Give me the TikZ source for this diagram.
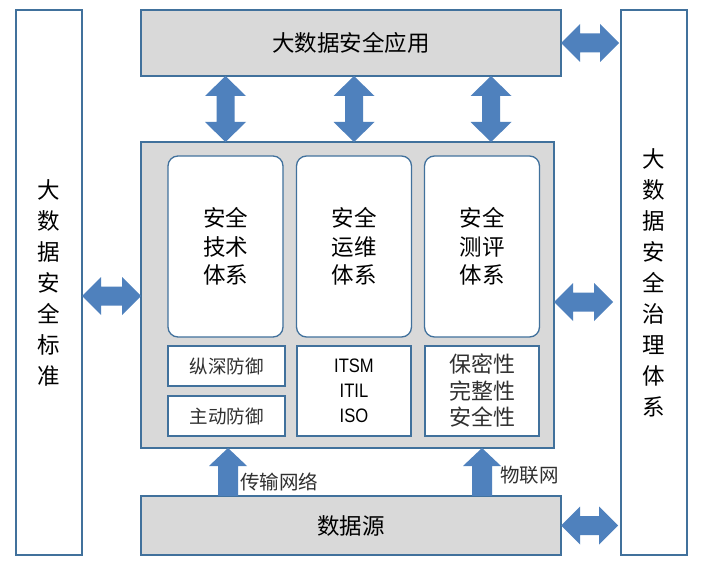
\documentclass[tikz,border=0pt]{standalone}
\usepackage{fontspec}
\usepackage{graphicx}
\setmainfont{Liberation Sans}
\newfontfamily\cjk{Noto Sans CJK SC}
\usetikzlibrary{calc}
\definecolor{bordc}{HTML}{41719C}
\definecolor{arrc}{HTML}{4F81BD}
\definecolor{boxg}{HTML}{D9D9D9}
\definecolor{txtg}{HTML}{303030}
% vertical double block arrow: #1 top tip, #2 bottom tip
\newcommand\myvdarrow[2]{%
 \fill[arrc] let \p1=#1, \p2=#2 in
 (\x1,\y1) -- (\x1+20.5pt,\y1-20pt) -- (\x1+9pt,\y1-20pt) -- (\x1+9pt,\y2+20pt)
 -- (\x1+20.5pt,\y2+20pt) -- (\x1,\y2) -- (\x1-20.5pt,\y2+20pt) -- (\x1-9pt,\y2+20pt)
 -- (\x1-9pt,\y1-20pt) -- (\x1-20.5pt,\y1-20pt) -- cycle;}
% horizontal double block arrow: #1 left tip, #2 right tip
\newcommand\myhdarrow[2]{%
 \fill[arrc] let \p1=#1, \p2=#2 in
 (\x1,\y1) -- (\x1+19pt,\y1+19pt) -- (\x1+19pt,\y1+9.5pt) -- (\x2-19pt,\y1+9.5pt)
 -- (\x2-19pt,\y1+19pt) -- (\x2,\y1) -- (\x2-19pt,\y1-19pt) -- (\x2-19pt,\y1-9.5pt)
 -- (\x1+19pt,\y1-9.5pt) -- (\x1+19pt,\y1-19pt) -- cycle;}
% up block arrow: #1 tip, #2 base
\newcommand\myuparrow[2]{%
 \fill[arrc] let \p1=#1, \p2=#2 in
 (\x1,\y1) -- (\x1+19pt,\y1-18pt) -- (\x1+10pt,\y1-18pt) -- (\x1+10pt,\y2)
 -- (\x1-10pt,\y2) -- (\x1-10pt,\y1-18pt) -- (\x1-19pt,\y1-18pt) -- cycle;}
\begin{document}
\begin{tikzpicture}[x=1pt,y=-1pt,
  basebox/.style={draw=bordc, line width=1.3pt, inner sep=0pt, outer sep=0pt, align=center},
  gbox/.style={basebox, fill=boxg},
  wbox/.style={basebox, fill=white},
  rbox/.style={basebox, fill=white, rounded corners=10pt, minimum width=115pt, minimum height=181pt,
     font=\cjk\fontsize{22.5}{28.5}\selectfont},
  subbox/.style={basebox, fill=white, text=txtg},
  bigtxt/.style={font=\cjk\fontsize{22.5}{27}\selectfont},
  vtxt/.style={font=\cjk\fontsize{22.5}{31}\selectfont},
  lbl/.style={inner sep=0pt, anchor=west, text=txtg, font=\cjk\fontsize{19.5}{24}\selectfont}
]
\useasboundingbox (0,0) rectangle (704,572);
\fill[white] (0,0) rectangle (704,572);

% side boxes
\node[wbox, vtxt, minimum width=66pt, minimum height=545pt] (lstd) at (49,282.5)
  {大\\数\\据\\安\\全\\标\\准};
\node[wbox, vtxt, minimum width=66pt, minimum height=545pt] (rgov) at (654,282.5)
  {大\\数\\据\\安\\全\\治\\理\\体\\系};

% top / bottom
\node[gbox, bigtxt, minimum width=420pt, minimum height=66pt] (top) at (351,43) {大数据安全应用};
\node[gbox, bigtxt, minimum width=420pt, minimum height=59pt] (src) at (351,525.5) {数据源};

% main box
\node[gbox, minimum width=413pt, minimum height=306pt] (main) at (347.5,295) {};

% inner rounded boxes
\node[rbox] (tech) at (225.5,246.5) {安全\\技术\\体系};
\node[rbox] (ops) at (354,246.5) {安全\\运维\\体系};
\node[rbox] (eval) at (482,246.5) {安全\\测评\\体系};

% lower boxes
\node[subbox, minimum width=117pt, minimum height=40pt, font=\cjk\fontsize{18.5}{22}\selectfont] (deep) at (226.5,366) {纵深防御};
\node[subbox, minimum width=117pt, minimum height=40pt, font=\cjk\fontsize{18.5}{22}\selectfont] (act) at (226.5,416) {主动防御};
\node[subbox, minimum width=114pt, minimum height=90pt, text=black, font=\fontsize{19.5}{25}\selectfont] (itsm) at (354,391)
  {\scalebox{0.85}[1]{ITSM}\\\scalebox{0.85}[1]{ITIL}\\\scalebox{0.85}[1]{ISO}};
\node[subbox, minimum width=114pt, minimum height=90pt, font=\cjk\fontsize{22}{26.5}\selectfont] (prop) at (482,391)
  {保密性\\完整性\\安全性};

% helper coordinates for arrow positions
\coordinate (ax3) at (491,0);
\coordinate (yl) at (0,296);
\coordinate (yr) at (0,302);
\coordinate (gapr) at (613,0);
\coordinate (ua1) at (228,0);
\coordinate (ua2) at (482,0);

% vertical double arrows
\myvdarrow{(top.south -| tech.north)}{(main.north -| tech.north)}
\myvdarrow{(top.south -| ops.north)}{(main.north -| ops.north)}
\myvdarrow{(top.south -| ax3)}{(main.north -| ax3)}

% horizontal double arrows
\myhdarrow{(lstd.east |- yl)}{(main.west |- yl)}
\myhdarrow{(main.east |- yr)}{(gapr |- yr)}
\myhdarrow{(top.east)}{([xshift=-2pt]rgov.west |- top.east)}
\myhdarrow{(src.east)}{([xshift=-3pt]rgov.west |- src.east)}

% up arrows
\myuparrow{(main.south -| ua1)}{(src.north -| ua1)}
\myuparrow{(main.south -| ua2)}{(src.north -| ua2)}

% labels
\node[lbl] (net) at (240,482) {传输网络};
\node[lbl] (iot) at (500,475) {物联网};
\end{tikzpicture}
\end{document}
